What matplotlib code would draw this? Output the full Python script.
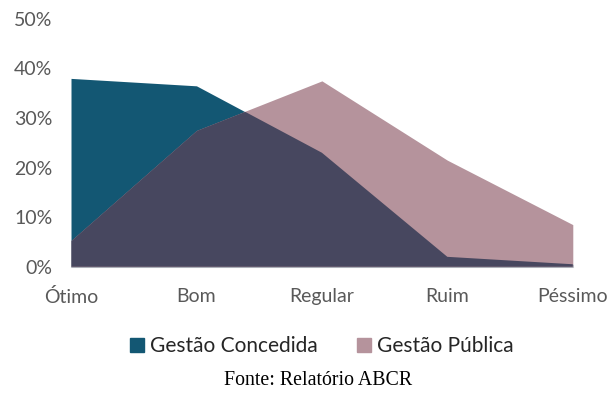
import matplotlib.pyplot as plt
import numpy as np
from matplotlib.patches import Patch
from matplotlib.ticker import PercentFormatter

categorias = ["Ótimo", "Bom", "Regular", "Ruim", "Péssimo"]
concedida = [38.0, 36.5, 23.0, 2.0, 0.5]
publica = [5.3, 27.5, 37.5, 21.5, 8.5]

cor_concedida = "#135773"
cor_publica = "#b5939c"
cor_sobreposicao = "#47475f"
cor_texto = "#595959"

plt.rcParams["font.family"] = ["Lato", "DejaVu Sans"]

fig = plt.figure(figsize=(6.1, 3.94), dpi=100)
ax = fig.add_axes([0.1164, 0.323, 0.8226, 0.629])

x = np.arange(len(categorias))
area_conc = ax.fill_between(x, 0, concedida, color=cor_concedida, lw=0)
ax.fill_between(x, 0, publica, color=cor_publica, lw=0)

# região onde as duas áreas se sobrepõem
sobre = ax.fill_between(x, 0, publica, color=cor_sobreposicao, lw=0)
sobre.set_clip_path(area_conc.get_paths()[0], ax.transData)

ax.set_xlim(0, len(categorias) - 1)
ax.set_ylim(0, 50)
ax.set_yticks(np.arange(0, 51, 10))
ax.yaxis.set_major_formatter(PercentFormatter(decimals=0))
ax.set_xticks(x)
ax.set_xticklabels(categorias)

for s in ["top", "right", "left"]:
    ax.spines[s].set_visible(False)
ax.spines["bottom"].set_color("#d9d9d9")
ax.spines["bottom"].set_zorder(0)
ax.tick_params(length=0, labelsize=14, colors=cor_texto)
ax.tick_params(axis="y", pad=13.5)
ax.tick_params(axis="x", pad=15.5)

handles = [Patch(color=cor_concedida, label="Gestão Concedida"),
           Patch(color=cor_publica, label="Gestão Pública")]
leg = fig.legend(handles=handles, loc="center", bbox_to_anchor=(0.528, 0.122), ncol=2,
                 frameon=False, fontsize=15, handlelength=0.65, handleheight=0.65,
                 handletextpad=0.3, columnspacing=1.9)
for t in leg.get_texts():
    t.set_color("#262626")

fig.text(0.522, 0.034, "Fonte: Relatório ABCR", ha="center", va="center",
         fontsize=14.3, family="Liberation Serif", color="#000000")

fig.savefig("out.png", dpi=100)
